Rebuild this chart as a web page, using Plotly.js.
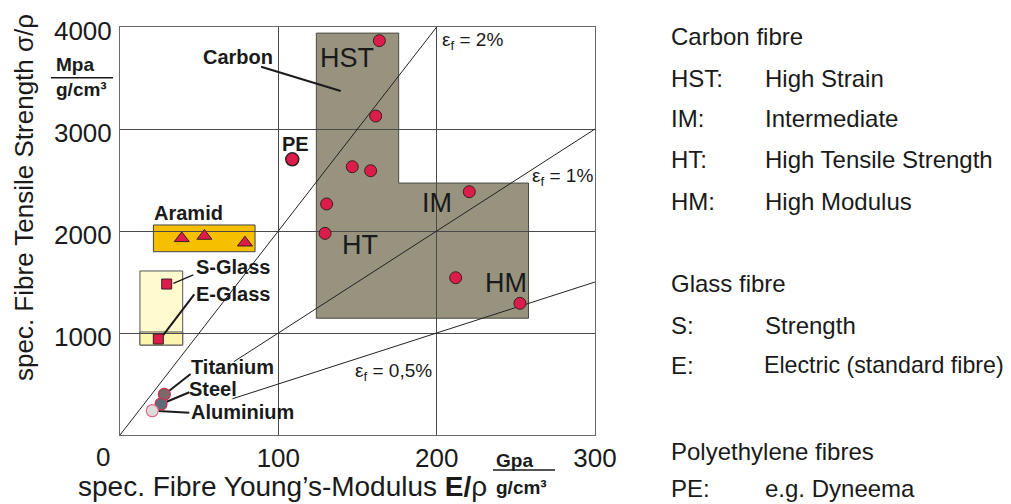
<!DOCTYPE html>
<html>
<head>
<meta charset="utf-8">
<script src="https://cdn.plot.ly/plotly-3.0.1.min.js"></script>
<style>html,body{margin:0;padding:0;background:#fff;}#chart{width:1011px;height:504px;}</style>
</head>
<body>
<div id="chart"></div>
<script>
// ---------- data ----------
const xTickVals = [100, 200, 300];
const xTickText = ['100', '200', '300'];
const yTickVals = [1000, 2000, 3000, 4000];
const yTickText = ['1000', '2000', '3000', '4000'];

// carbon fibres (specific modulus GPa/(g/cm3), specific strength MPa/(g/cm3))
const carbonE = [163.8, 161.5, 146.7, 158.3, 220.6, 130.5, 129.5, 212.0, 252.6];
const carbonS = [3866, 3127, 2630, 2591, 2385, 2265, 1977, 1542, 1291];
// polyethylene
const peE = [108.8];
const peS = [2703];
// aramid
const aramidE = [39.0, 53.3, 78.9];
const aramidS = [1928, 1951, 1885];
// glass
const glassNames = ['S-Glass', 'E-Glass'];
const glassE = [29.5, 24.2];
const glassS = [1480, 941];
// metals
const metalNames = ['Titanium', 'Steel', 'Aluminium'];
const metalE = [28.0, 25.9, 20.4];
const metalS = [399, 304, 238];

// regions
const carbonRegionE = [124, 124, 176, 176, 258, 258];
const carbonRegionS = [1145, 3940, 3940, 2470, 2470, 1145];
const aramidRegionE = [21.1, 85.3];
const aramidRegionS = [1797, 2059];
const glassRegionE = [12.6, 39.6];
const glassRegionS = [882, 1608];
const glassBandS = [882, 1010];

// strain lines
const eps2E = [0, 200],   eps2S = [0, 4000];
const eps1E = [72, 300],  eps1S = [720, 3000];
const eps05E = [71, 300], eps05S = [355, 1500];

// leader lines for labels
const leadCarbonE = [89.1, 139.4],  leadCarbonS = [3611, 3373];
const leadSGlassE = [46.3, 33.7],   leadSGlassS = [1569, 1487];
const leadEGlassE = [46.9, 27.3],   leadEGlassS = [1379, 980];
const leadTiE = [44.6, 31.1],       leadTiS = [598, 434];
const leadSteelE = [43.8, 29.5],    leadSteelS = [419, 326];
const leadAlE = [43.8, 24.2],       leadAlS = [219, 235];

// ---------- drawing ----------
const FONT = 'Liberation Sans, Arial, Helvetica, sans-serif';
const TXT = '#1a1a1a';
const RED = '#dc1c4b';

function lineTrace(x, y, w, c) {
  return {x: x, y: y, type: 'scatter', mode: 'lines', hoverinfo: 'skip',
          line: {color: c || '#1a1a1a', width: w}};
}

const traces = [
  lineTrace(eps2E, eps2S, 1, '#222'),
  lineTrace(eps1E, eps1S, 1, '#222'),
  lineTrace(eps05E, eps05S, 1, '#222'),
  lineTrace(leadCarbonE, leadCarbonS, 2),
  lineTrace(leadSGlassE, leadSGlassS, 1.4),
  lineTrace(leadEGlassE, leadEGlassS, 2),
  lineTrace(leadTiE, leadTiS, 2),
  lineTrace(leadSteelE, leadSteelS, 2),
  lineTrace(leadAlE, leadAlS, 2),
  {x: carbonE, y: carbonS, type: 'scatter', mode: 'markers', name: 'Carbon',
   marker: {symbol: 'circle', size: 12, color: RED, line: {color: '#3a2020', width: 1}}},
  {x: peE, y: peS, type: 'scatter', mode: 'markers', name: 'PE',
   marker: {symbol: 'circle', size: 13, color: RED, line: {color: '#3a2020', width: 1.5}}},
  {x: aramidE, y: aramidS, type: 'scatter', mode: 'markers', name: 'Aramid',
   marker: {symbol: 'triangle-up', size: 13, color: RED, line: {color: '#3a2020', width: 1}}},
  {x: glassE, y: glassS, type: 'scatter', mode: 'markers', name: 'Glass', text: glassNames,
   marker: {symbol: 'square', size: 10, color: RED, line: {color: '#3a2020', width: 1}}},
  {x: metalE, y: metalS, type: 'scatter', mode: 'markers', name: 'Metals', text: metalNames,
   marker: {symbol: 'circle', size: 12, color: ['#7a6a6a', '#5e6b78', '#dcdcdc'],
            line: {color: ['#d0304f', '#d0304f', '#e56a85'], width: 1.2}}}
];

function pathFrom(xs, ys) {
  return xs.map((v, i) => (i ? 'L' : 'M') + v + ',' + ys[i]).join(' ') + ' Z';
}

const px = v => (v - 120) / 475;   // pixel -> paper x
const py = v => (435 - v) / 408;   // pixel -> paper y

const shapes = [
  {type: 'path', xref: 'x', yref: 'y', layer: 'below', path: pathFrom(carbonRegionE, carbonRegionS),
   fillcolor: '#97937f', line: {color: '#4a4a40', width: 1}},
  {type: 'rect', xref: 'x', yref: 'y', layer: 'below',
   x0: aramidRegionE[0], x1: aramidRegionE[1], y0: aramidRegionS[0], y1: aramidRegionS[1],
   fillcolor: '#f6bf00', line: {color: '#444', width: 1}},
  {type: 'rect', xref: 'x', yref: 'y', layer: 'below',
   x0: glassRegionE[0], x1: glassRegionE[1], y0: glassRegionS[0], y1: glassRegionS[1],
   fillcolor: '#fffbcf', line: {color: '#555', width: 1}},
  {type: 'rect', xref: 'x', yref: 'y', layer: 'below',
   x0: glassRegionE[0], x1: glassRegionE[1], y0: glassBandS[0], y1: glassBandS[1],
   fillcolor: '#fdf4ad', line: {color: '#555', width: 1}},
  // unit fraction bars
  {type: 'line', xref: 'paper', yref: 'paper', x0: px(51), x1: px(113), y0: py(77.7), y1: py(77.7),
   line: {color: '#1a1a1a', width: 1.5}},
  {type: 'line', xref: 'paper', yref: 'paper', x0: px(493), x1: px(555), y0: py(470), y1: py(470),
   line: {color: '#1a1a1a', width: 1.5}}
];

function lab(text, x, y, size, bold, xanchor) {
  return {text: bold ? '<b>' + text + '</b>' : text, x: x, y: y, xref: 'x', yref: 'y',
          showarrow: false, xanchor: xanchor || 'center', yanchor: 'middle',
          font: {family: FONT, size: size, color: TXT}};
}
function plab(text, pxX, pxY, size, bold, xanchor, yanchor) {
  return {text: bold ? '<b>' + text + '</b>' : text, x: px(pxX), y: py(pxY), xref: 'paper', yref: 'paper',
          showarrow: false, xanchor: xanchor || 'left', yanchor: yanchor || 'middle',
          font: {family: FONT, size: size, color: TXT}};
}

const annotations = [
  lab('Carbon', 74.8, 3706, 20, true),
  lab('PE', 111.0, 2853, 20, true),
  lab('Aramid', 43.5, 2174, 20, true),
  lab(glassNames[0], 71.1, 1650, 20, true),
  lab(glassNames[1], 71.1, 1379, 20, true),
  lab(metalNames[0], 71.3, 670, 20, true),
  lab(metalNames[1], 58.7, 451, 20, true),
  lab(metalNames[2], 77.6, 228, 20, true),
  lab('HST', 143.6, 3701, 27, false),
  lab('IM', 200.3, 2275, 27, false),
  lab('HT', 151.3, 1863, 27, false),
  lab('HM', 243.5, 1490, 27, false),
  lab('ε<sub>f</sub> = 2%', 202.1, 3863, 19, false, 'left'),
  lab('ε<sub>f</sub> = 1%', 258.9, 2532, 19, false, 'left'),
  lab('ε<sub>f</sub> = 0,5%', 147.2, 618, 19, false, 'left'),
  // x tick "0"
  {text: '0', x: 0, y: 0, xref: 'x', yref: 'paper', xshift: -17, yshift: -22, showarrow: false,
   xanchor: 'center', yanchor: 'middle', font: {family: FONT, size: 26, color: TXT}},
  // axis titles
  {text: 'spec. Fibre Tensile Strength σ/ρ', x: px(24), y: py(198), xref: 'paper', yref: 'paper',
   textangle: -90, showarrow: false, xanchor: 'center', yanchor: 'middle',
   font: {family: FONT, size: 26, color: TXT}},
  {text: 'spec. Fibre Young’s-Modulus <b>E/</b>ρ', x: px(282), y: py(504), xref: 'paper', yref: 'paper',
   showarrow: false, xanchor: 'center', yanchor: 'bottom', font: {family: FONT, size: 28, color: TXT}},
  // units
  plab('Mpa', 54, 64.3, 19, true),
  plab('g/cm³', 54, 89.3, 19, true),
  plab('Gpa', 494, 460, 19, true),
  plab('g/cm³', 494, 487, 19, true),
  // right-hand key
  plab('Carbon fibre', 669, 36.7, 24),
  plab('HST:', 669, 78.3, 24), plab('High Strain', 763, 78.3, 24),
  plab('IM:', 669, 118.3, 24), plab('Intermediate', 763, 118.3, 24),
  plab('HT:', 669, 159.3, 24), plab('High Tensile Strength', 763, 159.3, 24),
  plab('HM:', 669, 201.7, 24), plab('High Modulus', 763, 201.7, 24),
  plab('Glass fibre', 669, 283.3, 24),
  plab('S:', 669, 325, 24), plab('Strength', 763, 325, 24),
  plab('E:', 669, 365, 24), plab('Electric (standard fibre)', 762, 365, 23.2),
  plab('Polyethylene fibres', 669, 451.7, 24),
  plab('PE:', 669, 504, 24, false, 'left', 'bottom'), plab('e.g. Dyneema', 763, 504, 24, false, 'left', 'bottom')
];

const layout = {
  width: 1011, height: 504,
  margin: {l: 120, r: 416, t: 27, b: 69, pad: 0},
  paper_bgcolor: '#ffffff', plot_bgcolor: '#ffffff',
  showlegend: false,
  font: {family: FONT, color: TXT},
  xaxis: {range: [0, 300], tickvals: xTickVals, ticktext: xTickText, ticks: '',
          showgrid: true, gridcolor: '#4a4a4a', gridwidth: 1, zeroline: false,
          showline: true, mirror: true, linecolor: '#6a6a6a', linewidth: 1,
          tickfont: {family: FONT, size: 26, color: TXT}, ticklabelstandoff: 0, fixedrange: true},
  yaxis: {range: [0, 4000], tickvals: yTickVals, ticktext: yTickText, ticks: '',
          showgrid: true, gridcolor: '#4a4a4a', gridwidth: 1, zeroline: false,
          showline: true, mirror: true, linecolor: '#6a6a6a', linewidth: 1,
          tickfont: {family: FONT, size: 26, color: TXT}, ticklabelstandoff: 2,
          ticklabelshift: 4, fixedrange: true},
  shapes: shapes,
  annotations: annotations
};

Plotly.newPlot('chart', traces, layout, {displayModeBar: false, staticPlot: true});
</script>
</body>
</html>
